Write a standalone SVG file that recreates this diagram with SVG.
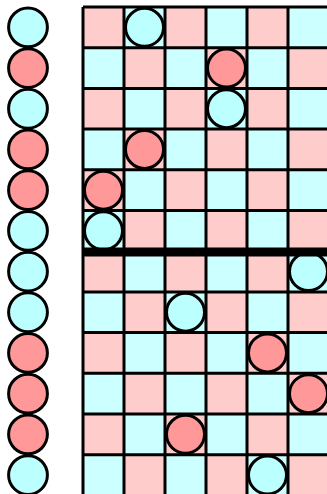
<svg xmlns="http://www.w3.org/2000/svg" width="327" height="494" viewBox="0 0 327 494">
<style>
.p{fill:#FFCCCC}.c{fill:#CCFFFF}
.gl{stroke:#000;stroke-width:3;fill:none}
.r{fill:#FF9999;stroke:#000;stroke-width:3}
.b{fill:#BBFFFF;stroke:#000;stroke-width:3}
</style>
<defs>
<pattern id="chk" x="83" y="7" width="82" height="81.4" patternUnits="userSpaceOnUse">
<rect width="41" height="40.7" class="p"/>
<rect x="41" width="41" height="40.7" class="c"/>
<rect y="40.7" width="41" height="40.7" class="c"/>
<rect x="41" y="40.7" width="41" height="40.7" class="p"/>
</pattern>
</defs>
<rect width="327" height="494" fill="#fff"/>
<g id="board">
<rect x="83" y="7" width="246" height="490" fill="url(#chk)"/>
<path class="gl" d="M83 7V497M124 7V497M165 7V497M206 7V497M247 7V497M288 7V497M328.5 7V497
M83 7H330M83 47.7H330M83 88.4H330M83 129.1H330M83 169.8H330M83 210.5H330M83 251.2H330M83 291.9H330M83 332.6H330M83 373.3H330M83 414H330M83 454.7H330"/>
</g>
<g id="left-column">
<g id="l0"><circle class="b" cx="28" cy="27.35" r="19.4"/></g>
<g id="l1"><circle class="r" cx="28" cy="68.05" r="19.4"/></g>
<g id="l2"><circle class="b" cx="28" cy="108.75" r="19.4"/></g>
<g id="l3"><circle class="r" cx="28" cy="149.45" r="19.4"/></g>
<g id="l4"><circle class="r" cx="28" cy="190.15" r="19.4"/></g>
<g id="l5"><circle class="b" cx="28" cy="230.85" r="19.4"/></g>
<g id="l6"><circle class="b" cx="28" cy="271.55" r="19.4"/></g>
<g id="l7"><circle class="b" cx="28" cy="312.25" r="19.4"/></g>
<g id="l8"><circle class="r" cx="28" cy="352.95" r="19.4"/></g>
<g id="l9"><circle class="r" cx="28" cy="393.65" r="19.4"/></g>
<g id="l10"><circle class="r" cx="28" cy="434.35" r="19.4"/></g>
<g id="l11"><circle class="b" cx="28" cy="475.05" r="19.4"/></g>
</g>
<g id="pieces">
<g id="p0"><circle class="b" cx="144.5" cy="27.35" r="19"/></g>
<g id="p1"><circle class="r" cx="226.5" cy="68.05" r="19"/></g>
<g id="p2"><circle class="b" cx="226.5" cy="108.75" r="19"/></g>
<g id="p3"><circle class="r" cx="144.5" cy="149.45" r="19"/></g>
<g id="p4"><circle class="r" cx="103.5" cy="190.15" r="19"/></g>
<g id="p5"><circle class="b" cx="103.5" cy="230.85" r="19"/></g>
<g id="p6"><circle class="b" cx="308.5" cy="271.55" r="19"/></g>
<g id="p7"><circle class="b" cx="185.5" cy="312.25" r="19"/></g>
<g id="p8"><circle class="r" cx="267.5" cy="352.95" r="19"/></g>
<g id="p9"><circle class="r" cx="308.5" cy="393.65" r="19"/></g>
<g id="p10"><circle class="r" cx="185.5" cy="434.35" r="19"/></g>
<g id="p11"><circle class="b" cx="267.5" cy="475.05" r="19"/></g>
</g>
<g id="connectors">
<line x1="83" y1="252" x2="330" y2="252" stroke="#000" stroke-width="9"/>
</g>
</svg>
